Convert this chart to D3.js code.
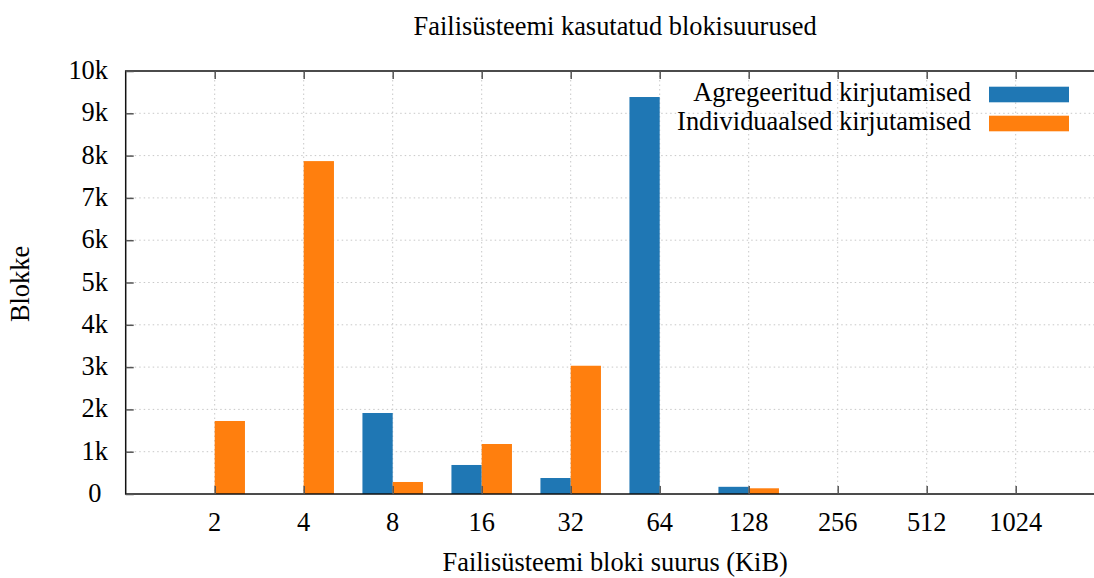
<!DOCTYPE html>
<html>
<head>
<meta charset="utf-8">
<script src="https://cdn.jsdelivr.net/npm/d3@7"></script>
<style>
  html, body { margin: 0; padding: 0; background: #fff; }
  svg { display: block; }
  text { font-family: "Liberation Serif", "Times New Roman", serif; fill: #000; }
</style>
</head>
<body>
<svg id="chart" width="1094" height="578"></svg>
<script>
// Block sizes in KiB (x categories)
const blockSizes = ["2", "4", "8", "16", "32", "64", "128", "256", "512", "1024"];
// Number of blocks per size
const aggregated = [0, 0, 1915, 686, 378, 9385, 170, 0, 0, 0];
const individual = [1726, 7870, 284, 1182, 3032, 0, 135, 0, 0, 0];
const seriesNames = ["Agregeeritud kirjutamised", "Individuaalsed kirjutamised"];
const seriesColors = ["#1f77b4", "#ff7f0e"];
const yTickValues = [0, 1000, 2000, 3000, 4000, 5000, 6000, 7000, 8000, 9000, 10000];
const yTickLabels = ["0\u00A0", "1k", "2k", "3k", "4k", "5k", "6k", "7k", "8k", "9k", "10k"];

const svg = d3.select("#chart");
const fontSize = 26.4;

const plot = { left: 125.7, right: 1104.7, top: 71, bottom: 494 };

// Categories sit at integer positions 0..9, with one empty slot on each side
const x = d3.scaleLinear().domain([-1, blockSizes.length]).range([plot.left, plot.right]);
const y = d3.scaleLinear().domain([0, 10000]).range([plot.bottom, plot.top]);

const barW = x(0.34) - x(0);

// Grid
const grid = svg.append("g").attr("stroke", "#c8c8c8").attr("stroke-width", 1)
  .attr("stroke-dasharray", "1.5,3");
grid.selectAll("line.h").data(yTickValues.slice(1, -1)).join("line")
  .attr("x1", plot.left).attr("x2", plot.right)
  .attr("y1", d => y(d)).attr("y2", d => y(d));
grid.selectAll("line.v").data(blockSizes).join("line")
  .attr("x1", (d, i) => x(i)).attr("x2", (d, i) => x(i))
  .attr("y1", plot.top).attr("y2", plot.bottom);

// Bars
const series = [aggregated, individual];
series.forEach((vals, s) => {
  svg.append("g").selectAll("rect").data(vals).join("rect")
    .attr("x", (d, i) => s === 0 ? x(i) - barW : x(i))
    .attr("width", barW)
    .attr("y", d => y(d))
    .attr("height", d => y(0) - y(d))
    .attr("fill", seriesColors[s]);
});

// Frame
svg.append("rect")
  .attr("x", plot.left).attr("y", plot.top)
  .attr("width", plot.right - plot.left).attr("height", plot.bottom - plot.top)
  .attr("fill", "none").attr("stroke", "#111").attr("stroke-width", 1.5);

// Axes with inward ticks
const yAxis = d3.axisRight(y).tickValues(yTickValues).tickSize(8).tickFormat("");
svg.append("g").attr("transform", `translate(${plot.left},0)`).call(yAxis)
  .call(g => g.select(".domain").remove())
  .call(g => g.selectAll(".tick line").attr("stroke", "#555").attr("stroke-width", 1.5));

const xIdx = d3.range(blockSizes.length);
const xAxisBottom = d3.axisTop(x).tickValues(xIdx).tickSize(8).tickFormat("");
svg.append("g").attr("transform", `translate(0,${plot.bottom})`).call(xAxisBottom)
  .call(g => g.select(".domain").remove())
  .call(g => g.selectAll(".tick line").attr("stroke", "#555").attr("stroke-width", 1.5));
const xAxisTop = d3.axisBottom(x).tickValues(xIdx).tickSize(8).tickFormat("");
svg.append("g").attr("transform", `translate(0,${plot.top})`).call(xAxisTop)
  .call(g => g.select(".domain").remove())
  .call(g => g.selectAll(".tick line").attr("stroke", "#555").attr("stroke-width", 1.5));

// Tick labels
svg.append("g").selectAll("text").data(yTickValues).join("text")
  .attr("x", 108).attr("y", d => y(d) + 8)
  .attr("text-anchor", "end").attr("font-size", fontSize)
  .text((d, i) => yTickLabels[i]);

svg.append("g").selectAll("text").data(blockSizes).join("text")
  .attr("x", (d, i) => x(i)).attr("y", 531)
  .attr("text-anchor", "middle").attr("font-size", fontSize)
  .text(d => d);

// Titles
const cx = (plot.left + plot.right) / 2;
svg.append("text").attr("x", cx).attr("y", 35).attr("text-anchor", "middle")
  .attr("font-size", fontSize).text("Failisüsteemi kasutatud blokisuurused");
svg.append("text").attr("x", cx).attr("y", 571).attr("text-anchor", "middle")
  .attr("font-size", fontSize).text("Failisüsteemi bloki suurus (KiB)");
svg.append("text").attr("transform", "translate(29,284) rotate(-90)")
  .attr("text-anchor", "middle").attr("font-size", fontSize).text("Blokke");

// Legend
const legend = svg.append("g");
seriesNames.forEach((name, i) => {
  const rowY = 94.5 + i * 29;
  legend.append("text").attr("x", 971).attr("y", rowY + 6.5)
    .attr("text-anchor", "end").attr("font-size", fontSize).text(name);
  legend.append("rect").attr("x", 989).attr("y", rowY - 7.8)
    .attr("width", 80).attr("height", 15.6).attr("fill", seriesColors[i]);
});
</script>
</body>
</html>
